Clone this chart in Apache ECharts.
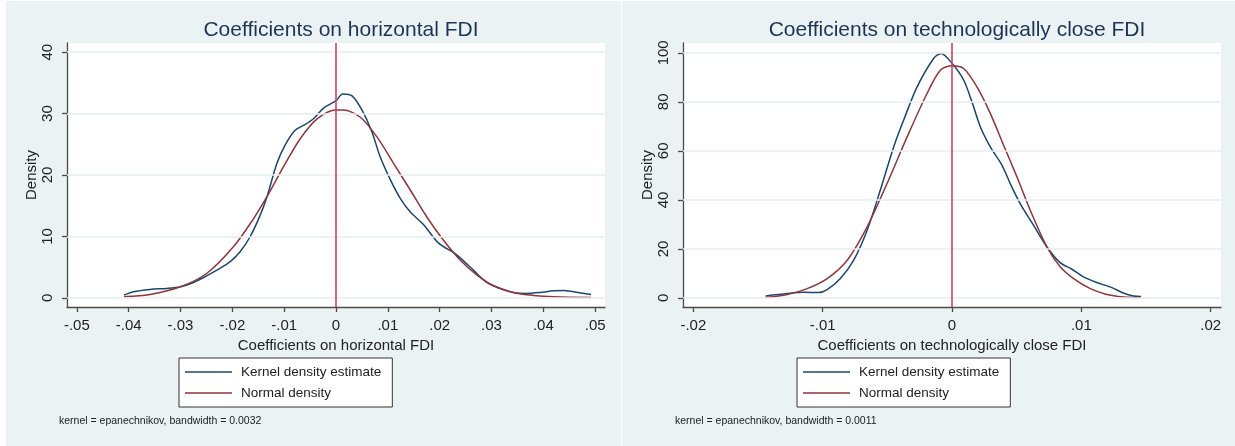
<!DOCTYPE html>
<html>
<head>
<meta charset="utf-8">
<script src="https://cdn.jsdelivr.net/npm/echarts@6/dist/echarts.min.js"></script>
<style>
  html, body { margin: 0; padding: 0; background: #ffffff; }
  #chart { width: 1235px; height: 446px; }
</style>
</head>
<body>
<div id="chart"></div>
<script>
// Kernel density and normal density of coefficients, horizontal FDI
const horizX = [-0.0409,-0.0391,-0.0359,-0.0326,-0.0300,-0.0275,-0.0249,-0.0230,-0.0204,-0.0185,-0.0166,-0.0146,-0.0133,-0.0114,-0.0098,-0.0079,-0.0060,-0.0043,-0.0024,0.0000,0.0013,0.0031,0.0050,0.0069,0.0085,0.0105,0.0124,0.0143,0.0169,0.0198,0.0233,0.0265,0.0291,0.0317,0.0342,0.0368,0.0394,0.0420,0.0439,0.0458,0.0492];
const horizKernel = [0.44,0.98,1.37,1.53,1.8,2.5,3.6,4.5,5.9,7.5,9.9,13.5,16.5,21.9,24.9,27.3,28.2,29.2,30.9,32.1,33.2,32.9,30.6,27.1,23.0,19.2,16.2,14.0,11.9,8.9,7.0,4.5,2.5,1.53,0.87,0.71,0.87,1.14,1.2,0.98,0.55];
const horizNormX = [-0.0409,-0.0359,-0.0300,-0.0249,-0.0198,-0.0159,-0.0133,-0.0101,-0.0069,-0.0037,0.0000,0.0014,0.0047,0.0079,0.0111,0.0143,0.0175,0.0207,0.0240,0.0272,0.0304,0.0342,0.0381,0.0420,0.0492];
const horizNormal = [0.17,0.55,1.8,4.0,8.3,12.9,16.5,21.4,25.9,29.1,30.6,30.6,29.4,26.2,21.9,17.6,13.2,9.4,6.1,3.7,1.96,0.87,0.39,0.16,0.03];

// Kernel density and normal density of coefficients, technologically close FDI
const techX = [-0.01441,-0.01274,-0.01146,-0.0103,-0.00965,-0.00863,-0.0076,-0.00656,-0.00554,-0.00451,-0.00374,-0.0027,-0.00142,-0.00085,0.0000,0.0009,0.00154,0.00219,0.00296,0.00386,0.0045,0.00527,0.0063,0.00734,0.00836,0.00927,0.01016,0.0112,0.01236,0.01325,0.01402,0.01462];
const techKernel = [0.82,1.8,2.3,2.2,3.4,7.9,15.4,27.6,44.0,61.6,72.5,86.1,97.7,99.7,95.7,88.9,80.0,69.8,61.6,54.2,46.7,38.5,29.7,20.8,14.4,11.7,8.6,6.3,4.2,2.0,0.82,0.57];
const techNormX = [-0.01441,-0.01274,-0.0112,-0.00965,-0.0081,-0.00656,-0.00502,-0.00347,-0.00193,-0.0009,0.0000,0.0009,0.00193,0.00296,0.00399,0.00502,0.00605,0.00734,0.00836,0.0094,0.0107,0.0119,0.01325,0.01462];
const techNormal = [0.16,1.4,3.8,7.9,15.4,29.0,46.7,65.7,83.4,92.9,94.7,93.6,86.1,75.3,62.3,49.4,35.8,20.8,12.7,7.9,3.8,1.5,0.4,0.2];

// Axis ticks and their labels
const horizXTicks = [-0.05,-0.04,-0.03,-0.02,-0.01,0,0.01,0.02,0.03,0.04,0.05];
const horizXLabels = ['-.05','-.04','-.03','-.02','-.01','0','.01','.02','.03','.04','.05'];
const horizYTicks = [0,10,20,30,40];
const techXTicks = [-0.02,-0.01,0,0.01,0.02];
const techXLabels = ['-.02','-.01','0','.01','.02'];
const techYTicks = [0,20,40,60,80,100];

const titles = ['Coefficients on horizontal FDI', 'Coefficients on technologically close FDI'];
const xNames = ['Coefficients on horizontal FDI', 'Coefficients on technologically close FDI'];
const notes = ['kernel = epanechnikov, bandwidth = 0.0032', 'kernel = epanechnikov, bandwidth = 0.0011'];
const seriesNames = ['Kernel density estimate', 'Normal density'];

const FONT = '"Liberation Sans", Arial, sans-serif';
const KERNEL_COLOR = '#1a476f';
const NORMAL_COLOR = '#90353b';
const ZERO_COLOR = '#d4405f';
const GRID_COLOR = '#e6eef1';
const AXIS_COLOR = '#4a4a4a';
const TEXT_COLOR = '#222222';
// thin horizontal bar used as the legend key
const LINE_KEY = 'path://M0,0 L94,0 L94,3 L0,3 Z';

function pairs(xs, ys) { return xs.map((x, i) => [x, ys[i]]); }
function labelFor(ticks, labels) {
  return v => {
    const i = ticks.findIndex(t => Math.abs(t - v) < 1e-9);
    return i >= 0 ? labels[i] : '';
  };
}

function xAxisFor(gridIndex, range, ticks, labels, name) {
  return {
    type: 'value', gridIndex, min: range[0], max: range[1],
    name, nameLocation: 'middle', nameGap: 26,
    nameTextStyle: { fontFamily: FONT, fontSize: 15, color: TEXT_COLOR },
    axisLine: { show: true, onZero: false, lineStyle: { color: AXIS_COLOR, width: 1.3 } },
    axisTick: { show: true, length: 5, customValues: ticks, lineStyle: { color: AXIS_COLOR, width: 1.3 } },
    axisLabel: { customValues: ticks, formatter: labelFor(ticks, labels), margin: 11,
                 fontFamily: FONT, fontSize: 15, color: TEXT_COLOR },
    splitLine: { show: false }
  };
}
function yAxisFor(gridIndex, range, ticks) {
  return {
    type: 'value', gridIndex, min: range[0], max: range[1],
    name: 'Density', nameLocation: 'middle', nameGap: 27,
    nameTextStyle: { fontFamily: FONT, fontSize: 15, color: TEXT_COLOR },
    axisLine: { show: true, onZero: false, lineStyle: { color: AXIS_COLOR, width: 1.3 } },
    axisTick: { show: true, length: 5, customValues: ticks, lineStyle: { color: AXIS_COLOR, width: 1.3 } },
    axisLabel: { customValues: ticks, rotate: 90, margin: 12,
                 fontFamily: FONT, fontSize: 15, color: TEXT_COLOR },
    splitLine: { show: false }
  };
}

function gridLines(ticks) {
  return {
    silent: true, symbol: 'none', label: { show: false },
    lineStyle: { color: GRID_COLOR, width: 1.6, type: 'solid' },
    emphasis: { disabled: true },
    data: ticks.map(t => ({ yAxis: t }))
  };
}
function zeroLine() {
  return {
    silent: true, symbol: 'none', label: { show: false },
    lineStyle: { color: ZERO_COLOR, width: 1.6, type: 'solid' },
    emphasis: { disabled: true },
    data: [{ xAxis: 0 }]
  };
}

function lineSeries(name, idx, data, color, extra) {
  return Object.assign({
    type: 'line', name, xAxisIndex: idx, yAxisIndex: idx, data,
    showSymbol: false, symbol: 'none', smooth: 0.3, animation: false,
    lineStyle: { color, width: 1.5 }, itemStyle: { color }
  }, extra || {});
}

function legendFor(left) {
  return {
    show: true, orient: 'vertical', left, top: 358,
    data: seriesNames.map(n => ({ name: n, icon: LINE_KEY })),
    selectedMode: false,
    itemWidth: 47, itemHeight: 14, itemGap: 7,
    padding: [7, 11, 7, 6],
    backgroundColor: '#ffffff', borderColor: '#333333', borderWidth: 1, borderRadius: 0,
    textStyle: { fontFamily: FONT, fontSize: 13.5, color: TEXT_COLOR, padding: [0, 0, 0, 4] }
  };
}

const chart = echarts.init(document.getElementById('chart'), null, { renderer: 'canvas' });
chart.setOption({
  animation: false,
  backgroundColor: '#ffffff',
  graphic: [
    { type: 'rect', left: 6, top: 1, shape: { width: 615, height: 445 }, style: { fill: '#eaf2f3' }, z: -10 },
    { type: 'rect', left: 622, top: 1, shape: { width: 613, height: 445 }, style: { fill: '#eaf2f3' }, z: -10 },
    { type: 'text', left: 59, top: 416, style: { text: notes[0], font: '10.5px ' + FONT, fill: TEXT_COLOR }, z: 10 },
    { type: 'text', left: 675, top: 416, style: { text: notes[1], font: '10.5px ' + FONT, fill: TEXT_COLOR }, z: 10 }
  ],
  title: [
    { text: titles[0], left: 336, top: 15, textAlign: 'center',
      textStyle: { fontFamily: FONT, fontSize: 21, fontWeight: 'normal', color: '#1e3454' } },
    { text: titles[1], left: 952, top: 15, textAlign: 'center',
      textStyle: { fontFamily: FONT, fontSize: 21, fontWeight: 'normal', color: '#1e3454' } }
  ],
  legend: [legendFor(179), legendFor(797)],
  grid: [
    { left: 67, right: 630, top: 43, height: 264, show: true, backgroundColor: '#ffffff', borderWidth: 0 },
    { left: 683, right: 14, top: 43, height: 264, show: true, backgroundColor: '#ffffff', borderWidth: 0 }
  ],
  xAxis: [
    xAxisFor(0, [-0.0519, 0.0519], horizXTicks, horizXLabels, xNames[0]),
    xAxisFor(1, [-0.0208, 0.0208], techXTicks, techXLabels, xNames[1])
  ],
  yAxis: [
    yAxisFor(0, [-1.5, 41.5], horizYTicks),
    yAxisFor(1, [-3.7, 104], techYTicks)
  ],
  series: [
    lineSeries(seriesNames[0], 0, pairs(horizX, horizKernel), KERNEL_COLOR, { markLine: gridLines(horizYTicks), z: 3 }),
    lineSeries(seriesNames[1], 0, pairs(horizNormX, horizNormal), NORMAL_COLOR, { markLine: zeroLine(), z: 4 }),
    lineSeries(seriesNames[0], 1, pairs(techX, techKernel), KERNEL_COLOR, { markLine: gridLines(techYTicks), z: 3 }),
    lineSeries(seriesNames[1], 1, pairs(techNormX, techNormal), NORMAL_COLOR, { markLine: zeroLine(), z: 4 })
  ]
});
</script>
</body>
</html>
